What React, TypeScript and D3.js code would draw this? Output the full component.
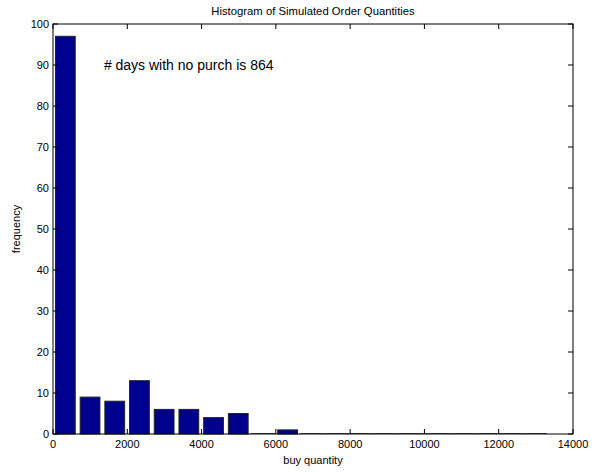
import React from "react";
import * as d3 from "d3";

// Histogram counts per bin (bin width 665, from 0)
const binWidth = 665;
const counts = [97, 9, 8, 13, 6, 6, 4, 5, 0, 1, 0, 0, 0, 0, 0, 0, 0, 0, 0, 0];
const xTicks = [0, 2000, 4000, 6000, 8000, 10000, 12000, 14000];
const yTicks = [0, 10, 20, 30, 40, 50, 60, 70, 80, 90, 100];
const title = "Histogram of Simulated Order Quantities";
const xLabel = "buy quantity";
const yLabel = "frequency";
const note = "# days with no purch is 864";
const noteAt = [1370, 90];

const W = 604;
const H = 472;
const margin = { left: 53, right: 31, top: 24, bottom: 38 };
const FONT = "Liberation Sans, Arial, Helvetica, sans-serif";

export default function App() {
  const x = d3.scaleLinear().domain([0, 14000]).range([margin.left, W - margin.right]);
  const y = d3.scaleLinear().domain([0, 100]).range([H - margin.bottom, margin.top]);
  const x0 = x.range()[0];
  const x1 = x.range()[1];
  const y0 = y.range()[0];
  const y1 = y.range()[1];
  const tick = 5;
  const barFrac = 0.8;

  return (
    <svg
      width={W}
      height={H}
      style={{ position: "absolute", left: 0, top: 0, background: "#fff" }}
      fontFamily={FONT}
    >
      <rect x={0} y={0} width={W} height={H} fill="#fff" />
      {counts.map((c, i) => {
        const center = (i + 0.5) * binWidth;
        const left = x(center - (barFrac * binWidth) / 2);
        const right = x(center + (barFrac * binWidth) / 2);
        if (c === 0) {
          return (
            <line
              key={i}
              x1={x(i * binWidth)}
              x2={x((i + 1) * binWidth)}
              y1={y(0) - 0.5}
              y2={y(0) - 0.5}
              stroke="#555"
              strokeWidth={1}
            />
          );
        }
        return (
          <rect
            key={i}
            x={left}
            y={y(c)}
            width={right - left}
            height={y(0) - y(c)}
            fill="#00008F"
            stroke="#222"
            strokeWidth={1}
          />
        );
      })}
      {/* axis box */}
      <rect x={x0} y={y1} width={x1 - x0} height={y0 - y1} fill="none" stroke="#000" strokeWidth={1} />
      {xTicks.map((t) => (
        <g key={"x" + t}>
          <line x1={x(t)} x2={x(t)} y1={y0} y2={y0 - tick} stroke="#000" />
          <line x1={x(t)} x2={x(t)} y1={y1} y2={y1 + tick} stroke="#000" />
          <text x={x(t)} y={y0 + 14} fontSize={11} textAnchor="middle" fill="#000">
            {t}
          </text>
        </g>
      ))}
      {yTicks.map((t) => (
        <g key={"y" + t}>
          <line x1={x0} x2={x0 + tick} y1={y(t)} y2={y(t)} stroke="#000" />
          <line x1={x1} x2={x1 - tick} y1={y(t)} y2={y(t)} stroke="#000" />
          <text x={x0 - 4} y={y(t) + 4} fontSize={11} textAnchor="end" fill="#000">
            {t}
          </text>
        </g>
      ))}
      <text x={(x0 + x1) / 2} y={15} fontSize={11.3} textAnchor="middle" fill="#000">
        {title}
      </text>
      <text x={(x0 + x1) / 2} y={y0 + 30} fontSize={11} textAnchor="middle" fill="#000">
        {xLabel}
      </text>
      <text
        transform={`translate(20,${(y0 + y1) / 2}) rotate(-90)`}
        fontSize={11}
        textAnchor="middle"
        fill="#000"
      >
        {yLabel}
      </text>
      <text x={x(noteAt[0])} y={y(noteAt[1]) + 5} fontSize={14} fill="#000">
        {note}
      </text>
    </svg>
  );
}
